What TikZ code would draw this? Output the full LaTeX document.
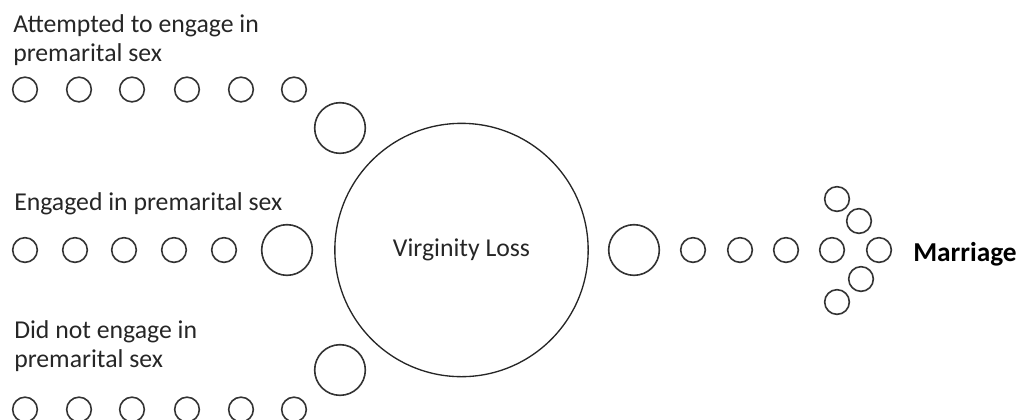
\documentclass[tikz,border=0pt]{standalone}
\usepackage{fontspec}
\setmainfont{Carlito}
\usepackage{tikz}
\usetikzlibrary{positioning}

\begin{document}
\begin{tikzpicture}[x=0.75pt,y=-0.75pt,
  dot/.style={draw=black!80,circle,line width=1.2pt,inner sep=0pt,minimum size=18.5pt},
  bigdot/.style={dot,minimum size=38pt},
  core/.style={draw=black!85,circle,line width=1pt,inner sep=0pt,minimum size=190pt,font=\fontsize{19.3}{22}\selectfont,text=black!85},
  caption/.style={inner sep=0pt,anchor=base west,align=left,text=black!85,font=\fontsize{19.3}{21.75}\selectfont}]
\useasboundingbox (0,0) rectangle (1021,419);
% three groups on the left
\foreach \x [count=\i] in {25,79,132,187,241,294} {
  \node[dot] (att\i) at (\x,89.5) {};
  \node[dot] (not\i) at (\x,409.5) {};
}
\foreach \x [count=\i] in {25,75,124,174,224}
  \node[dot] (eng\i) at (\x,250) {};
\node[bigdot] (attend) at (340,128) {};
\node[bigdot] (engend) at (287,250) {};
\node[bigdot] (notend) at (340,370) {};
\node[caption] (attlabel) at (13,61) {Attempted to engage in\\premarital sex};
\node[caption] (englabel) at (14,210) {Engaged in premarital sex};
\node[caption] (notlabel) at (14,367) {Did not engage in\\premarital sex};
% centre
\node[core] (loss) at (461.5,250) {Virginity Loss};
% path to the right
\node[bigdot] (out) at (634,250) {};
\foreach \x [count=\i] in {693,740,786,832,879}
  \node[dot] (path\i) at (\x,250) {};
\node[dot] (tipa) at (837,199) {};
\node[dot] (tipb) at (859,221) {};
\node[dot] (tipc) at (861,279) {};
\node[dot] (tipd) at (837,302) {};
\node[caption,font=\fontsize{20.5}{22}\selectfont\bfseries,text=black] (marriage) at (913,261) {Marriage};
\end{tikzpicture}
\end{document}
